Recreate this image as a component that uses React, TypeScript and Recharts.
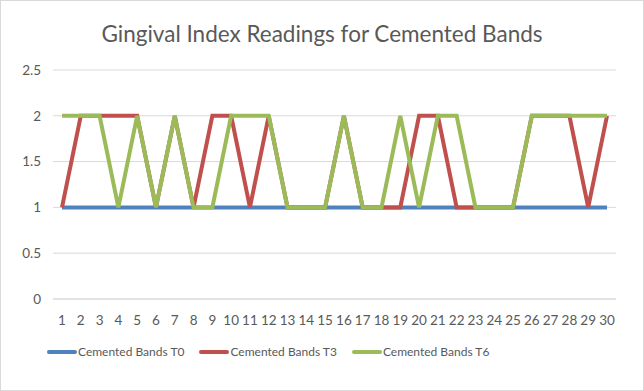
import React from "react";
import { LineChart, Line, XAxis, YAxis, CartesianGrid } from "recharts";

const DAYS = Array.from({ length: 30 }, (_, i) => String(i + 1));
const T0 = [1, 1, 1, 1, 1, 1, 1, 1, 1, 1, 1, 1, 1, 1, 1, 1, 1, 1, 1, 1, 1, 1, 1, 1, 1, 1, 1, 1, 1, 1];
const T3 = [1, 2, 2, 2, 2, 1, 2, 1, 2, 2, 1, 2, 1, 1, 1, 2, 1, 1, 1, 2, 2, 1, 1, 1, 1, 2, 2, 2, 1, 2];
const T6 = [2, 2, 2, 1, 2, 1, 2, 1, 1, 2, 2, 2, 1, 1, 1, 2, 1, 1, 2, 1, 2, 2, 1, 1, 1, 2, 2, 2, 2, 2];
const Y_TICKS = [0, 0.5, 1, 1.5, 2, 2.5];

const SERIES = [
  { key: "t0", name: "Cemented Bands T0", color: "#4F81BD" },
  { key: "t3", name: "Cemented Bands T3", color: "#C0504D" },
  { key: "t6", name: "Cemented Bands T6", color: "#9BBB59" },
];

const data = DAYS.map((d, i) => ({ day: d, t0: T0[i], t3: T3[i], t6: T6[i] }));

const FONT = "Lato, 'Open Sans', sans-serif";
const TEXT = "#595959";

export default function App() {
  return (
    <div
      style={{
        position: "relative",
        width: 644,
        height: 391,
        fontFamily: FONT,
        background: "#fff",
      }}
    >
      <style>{"body{margin:0}"}</style>
      <div
        style={{
          position: "absolute",
          inset: 0,
          border: "1px solid #d9d9d9",
          boxSizing: "border-box",
          pointerEvents: "none",
        }}
      />
      <div
        style={{
          position: "absolute",
          top: 20,
          width: "100%",
          textAlign: "center",
          fontSize: 22.5,
          color: TEXT,
        }}
      >
        Gingival Index Readings for Cemented Bands
      </div>
      <LineChart
        width={644}
        height={391}
        data={data}
        margin={{ top: 70, right: 28, left: 0, bottom: 62 }}
      >
        <CartesianGrid vertical={false} stroke="#d9d9d9" />
        <XAxis
          dataKey="day"
          height={30}
          padding={{ left: 9, right: 9 }}
          tickLine={false}
          axisLine={{ stroke: "#d9d9d9" }}
          tickSize={0}
          tickMargin={16}
          interval={0}
          tick={{ fontSize: 13.5, fill: TEXT, fontFamily: FONT }}
        />
        <YAxis
          width={53}
          domain={[0, 2.5]}
          ticks={Y_TICKS}
          axisLine={false}
          tickLine={false}
          tickSize={0}
          tickMargin={12}
          tick={{ fontSize: 13.5, fill: TEXT, fontFamily: FONT }}
        />
        {SERIES.map((s) => (
          <Line
            key={s.key}
            type="linear"
            dataKey={s.key}
            name={s.name}
            stroke={s.color}
            strokeWidth={4}
            dot={false}
            activeDot={false}
            isAnimationActive={false}
          />
        ))}
      </LineChart>
      <div
        style={{
          position: "absolute",
          top: 344,
          left: 47,
          display: "flex",
          gap: 15,
          fontSize: 12,
          color: TEXT,
        }}
      >
        {SERIES.map((s) => (
          <div key={s.key} style={{ display: "flex", alignItems: "center" }}>
            <span
              style={{
                display: "inline-block",
                width: 30,
                height: 4,
                borderRadius: 2,
                background: s.color,
                marginRight: 1,
              }}
            />
            {s.name}
          </div>
        ))}
      </div>
    </div>
  );
}
